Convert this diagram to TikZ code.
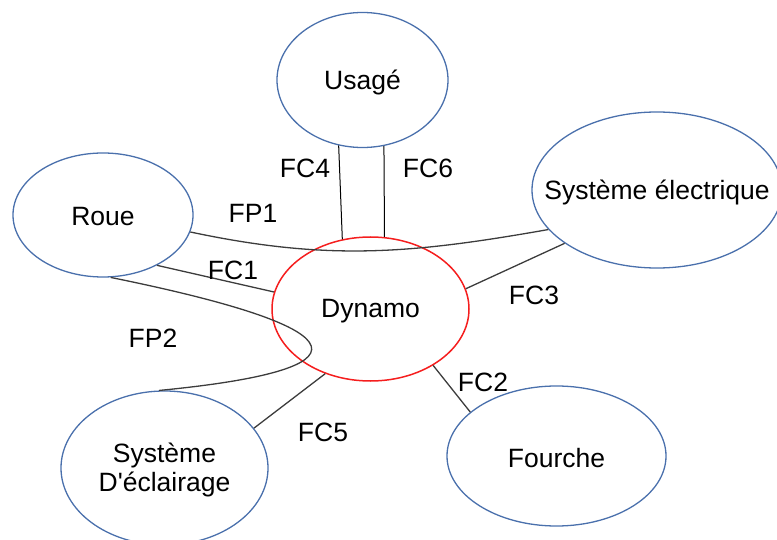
\documentclass[tikz,border=0pt]{standalone}
\usepackage{fontspec}
\setmainfont{Liberation Sans}[Ligatures=TeXOff]
\usetikzlibrary{shapes.geometric}
\definecolor{bord}{RGB}{74,112,172}
\definecolor{rouge}{RGB}{245,30,30}
\definecolor{trait}{RGB}{60,60,60}
\tikzset{
  texte/.style={font=\fontsize{26.5}{29}\selectfont, align=center, inner sep=0pt},
  nom/.style={texte, yshift=-2pt},
  bloc/.style={ellipse, draw=bord, line width=1.3pt, inner sep=0pt},
  centre/.style={ellipse, draw=rouge, line width=1.5pt, inner sep=0pt},
  lien/.style={draw=trait, line width=1.3pt},
  fin/.style={draw=black, line width=1pt},
  etiquette/.style={texte}
}
\begin{document}
\begin{tikzpicture}[x=1pt,y=-1pt]
\useasboundingbox (0,0) rectangle (777,540);

% fonctions autour de la dynamo
\node[bloc, minimum width=171pt, minimum height=135pt,
  label={[nom]center:Usagé}] (usage) at (362.5,80) {};
\node[bloc, minimum width=180pt, minimum height=124pt,
  label={[nom]center:Roue}] (roue) at (103,215) {};
\node[bloc, minimum width=250pt, minimum height=156pt,
  label={[nom]center:Système électrique}] (elec) at (657,190) {};
\node[centre, minimum width=197pt, minimum height=144pt,
  label={[nom]center:Dynamo}] (dynamo) at (370.5,309) {};
\node[bloc, minimum width=207pt, minimum height=154pt,
  label={[nom]center:Système\\D'éclairage}] (eclair) at (164.5,468) {};
\node[bloc, minimum width=219pt, minimum height=140pt,
  label={[nom]center:Fourche}] (fourche) at (556.5,456) {};

% liaisons
\draw[lien] (roue.-11.7) to[out=-12,in=190] (elec.200.6);
\draw[lien] (roue.-43.4) -- (dynamo.170.7);
\draw[lien] (roue.-83.5) .. controls (370,330) and (370,370) .. (eclair.94.8);
\draw[fin] (usage.-110.6) -- (dynamo.112);
\draw[fin] (usage.-72.5) -- (dynamo.79.7);
\draw[lien] (dynamo.12.5) -- (elec.210.1);
\draw[lien] (dynamo.-42.4) -- (fourche.153.3);
\draw[lien] (eclair.24.9) -- (dynamo.-125.7);

% noms des fonctions
\node[etiquette] (fc4) at (305,168) {FC4};
\node[etiquette] (fc6) at (428,168) {FC6};
\node[etiquette] (fp1) at (253,213) {FP1};
\node[etiquette] (fc1) at (233,270) {FC1};
\node[etiquette] (fp2) at (153,338) {FP2};
\node[etiquette] (fc3) at (534,295) {FC3};
\node[etiquette] (fc2) at (483,382) {FC2};
\node[etiquette] (fc5) at (323,432) {FC5};
\end{tikzpicture}
\end{document}
